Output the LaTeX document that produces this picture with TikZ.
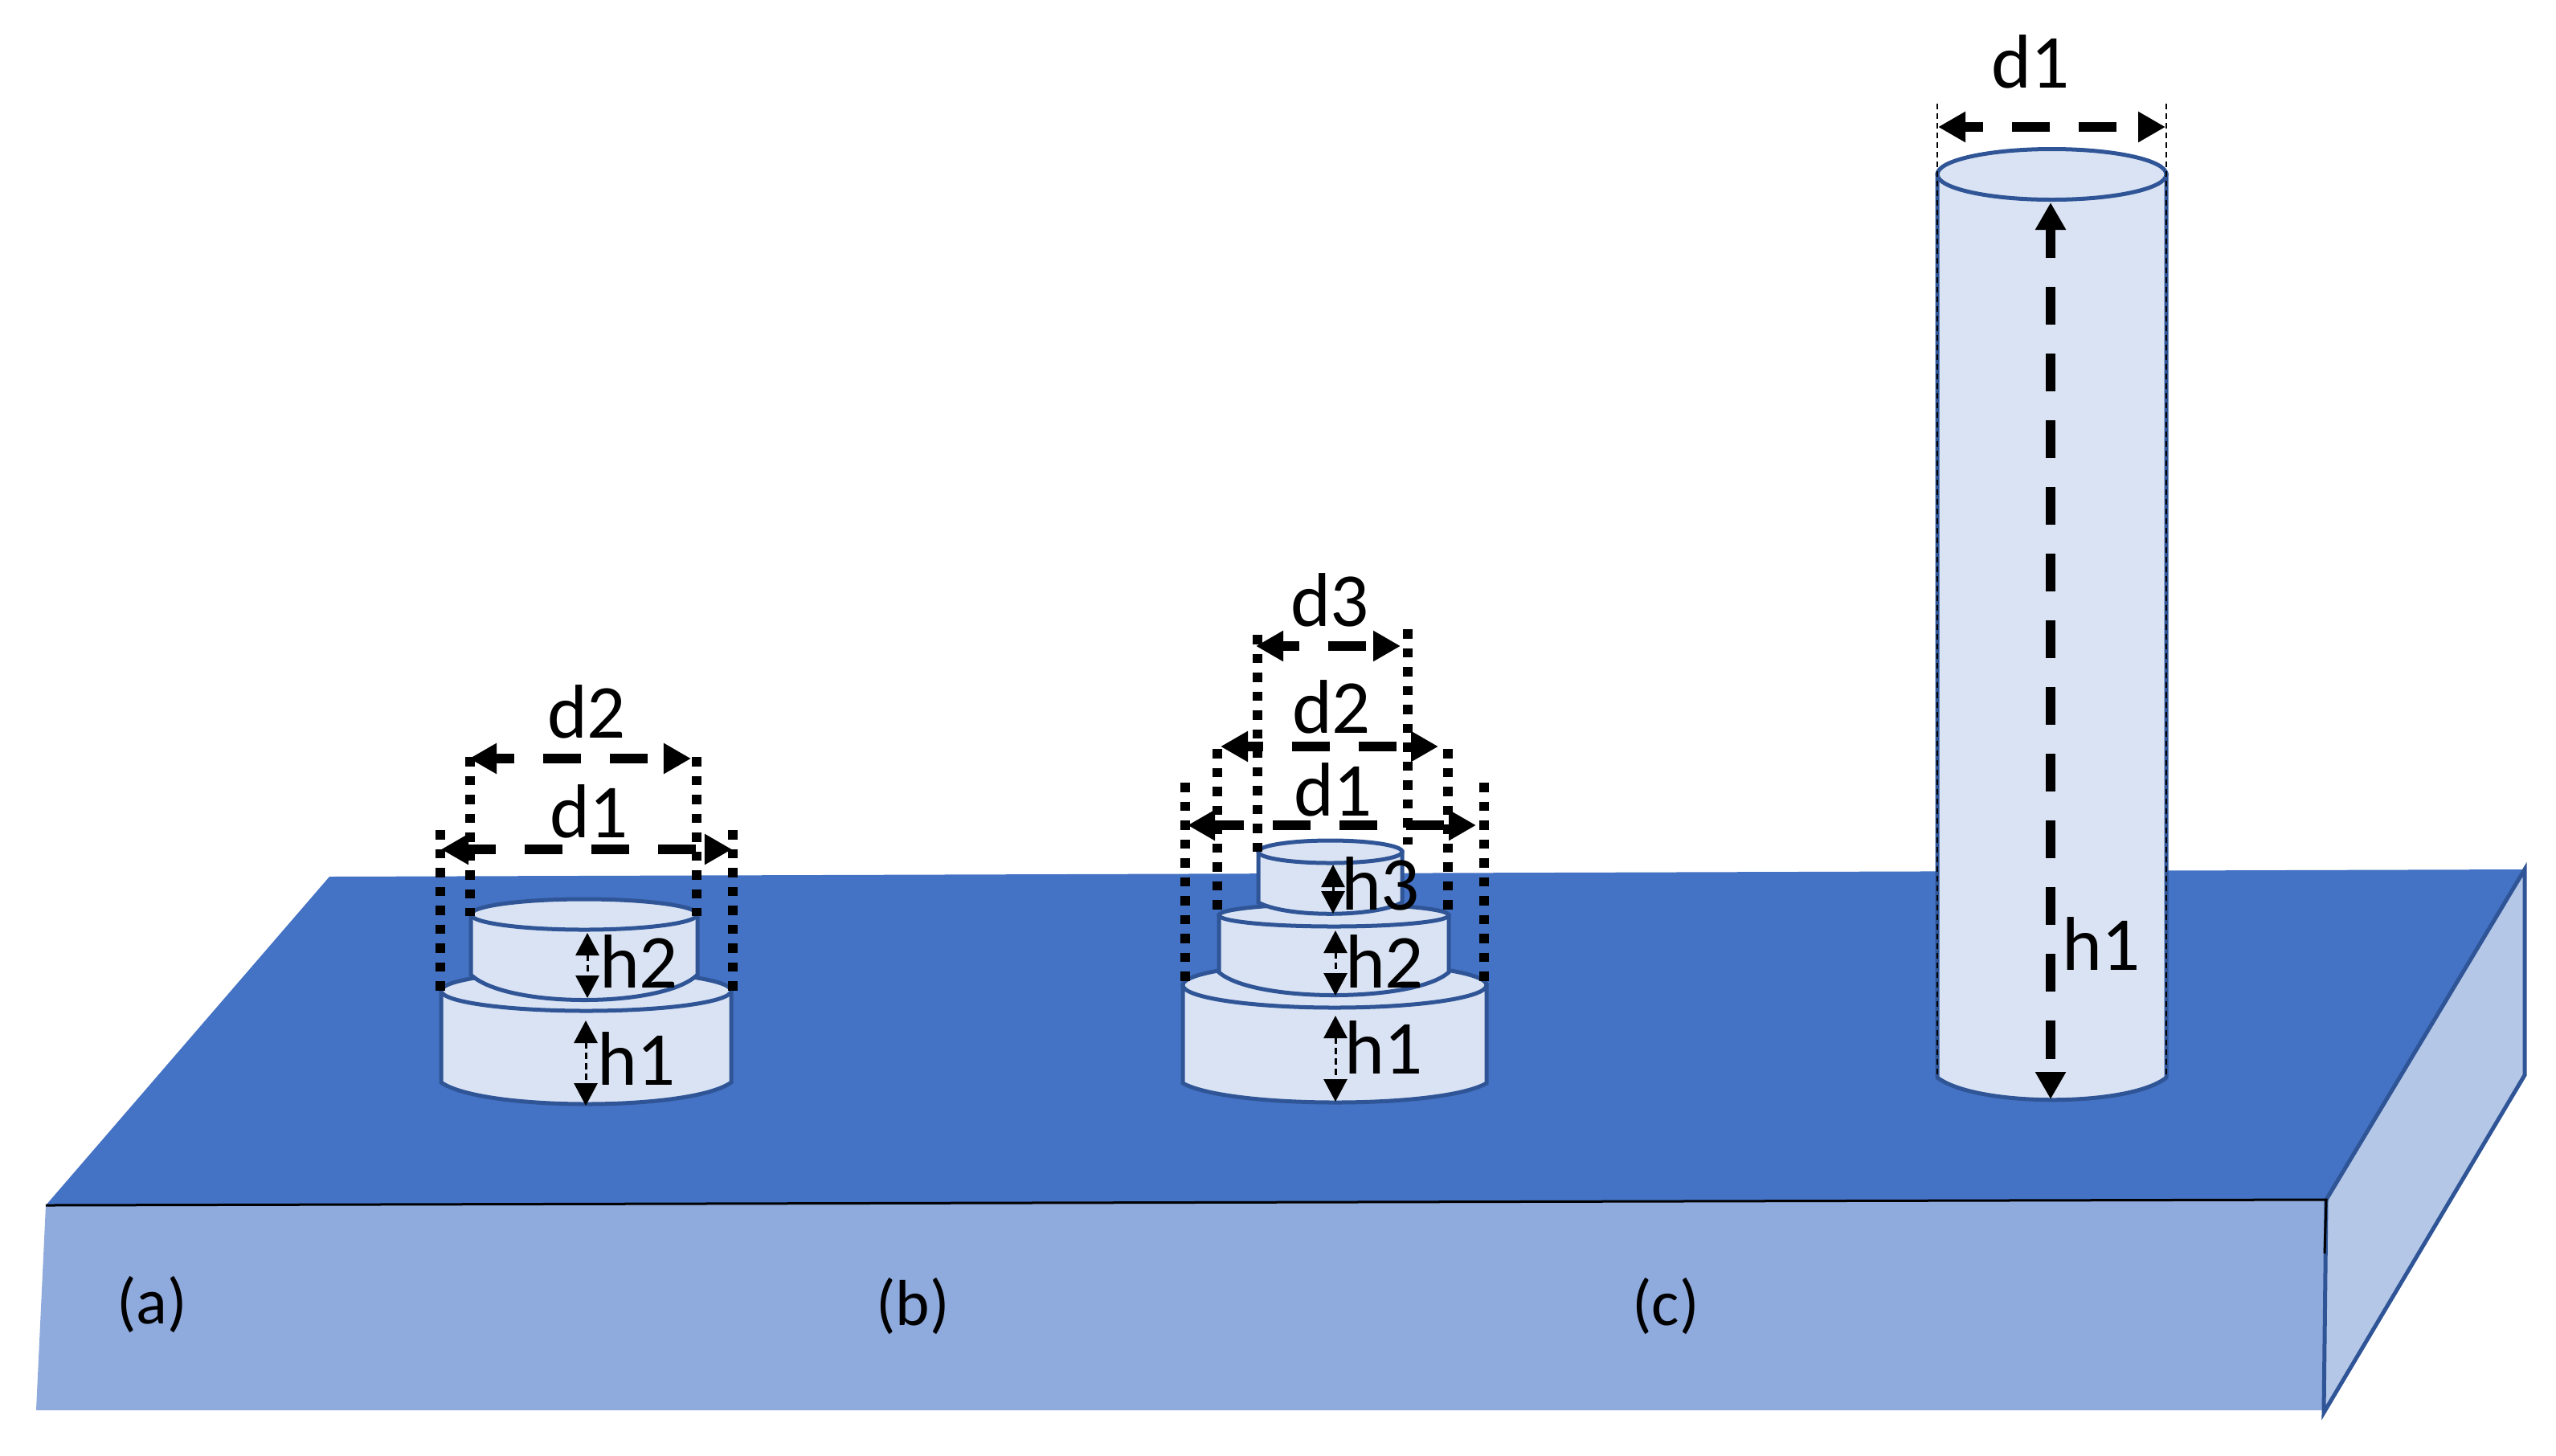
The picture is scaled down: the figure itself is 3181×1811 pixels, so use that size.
\documentclass[tikz,border=0pt]{standalone}
\usepackage{fontspec}
\setmainfont{Carlito}
\usetikzlibrary{arrows.meta}

\definecolor{topblue}{HTML}{4472C4}
\definecolor{frontblue}{HTML}{8FAADC}
\definecolor{sideblue}{HTML}{B4C7E7}
\definecolor{pillarblue}{HTML}{DAE3F3}
\definecolor{edgeblue}{HTML}{2F5597}

\tikzset{
    tier/.style={fill=pillarblue, draw=edgeblue, line width=0.05cm},
    guide/.style={black, line width=0.115cm, dash pattern=on 0.115cm off 0.12cm},
    thinguide/.style={black, line width=0.025cm, dash pattern=on 0.07cm off 0.05cm},
    width arrow/.style={black, line width=0.12cm, dash pattern=on 0.47cm off 0.36cm,
        {Triangle[length=0.34cm,width=0.36cm]}-{Triangle[length=0.34cm,width=0.36cm]}},
    small arrow/.style={black, line width=0.03cm, dash pattern=on 0.08cm off 0.05cm,
        {Triangle[length=0.28cm,width=0.29cm]}-{Triangle[length=0.28cm,width=0.29cm]}},
    dim/.style={inner sep=0, font=\fontsize{27}{32}\selectfont},
    tag/.style={inner sep=0, font=\fontsize{23}{28}\selectfont},
}

\begin{document}
\begin{tikzpicture}[x=0.01cm, y=-0.01cm]
    \useasboundingbox (0,0) rectangle (3181,1811);

    % slab
    \fill [topblue] (410,1091) -- (3142,1082) -- (2895,1493) -- (57,1500) -- cycle;
    \fill [frontblue] (57,1500) -- (2895,1493) -- (2892,1755) -- (45,1755) -- cycle;
    \draw [fill=sideblue, draw=edgeblue, line width=0.05cm] (2895,1493) -- (3142,1082) -- (3142,1338) -- (2892,1758) -- cycle;
    \draw [black, line width=0.03cm] (57,1500) -- (2895,1493) -- (2893,1560);

    % pillar a
    \draw [tier] (549,1233) -- (549,1347) .. controls (600,1383) and (860,1383) .. (910,1347) -- (910,1233) -- cycle;
    \draw [tier] (729.5,1233) ellipse [x radius=180.5, y radius=25];
    \draw [tier] (586,1138) -- (586,1213) .. controls (630,1255) and (825,1255) .. (868,1213) -- (868,1138) -- cycle;
    \draw [tier] (727,1138) ellipse [x radius=141, y radius=19];

    \draw [guide] (548,1033) -- (548,1233);
    \draw [guide] (912,1033) -- (912,1233);
    \draw [guide] (585,942) -- (585,1140);
    \draw [guide] (867,942) -- (867,1140);
    \draw [width arrow, dash phase=0.23cm] (584,944) -- (860,944);
    \draw [width arrow, dash phase=0.11cm] (549,1057) -- (911,1057);
    \draw [small arrow] (731,1161) -- (731,1242);
    \draw [small arrow] (729,1270) -- (729,1376);

    \node [dim] (d2a) at (730,886) {d2};
    \node [dim] (d1a) at (733,1010) {d1};
    \node [dim] (h2a) at (795,1197) {h2};
    \node [dim] (h1a) at (792,1318) {h1};

    % pillar b
    \draw [tier] (1472,1226) -- (1472,1348) .. controls (1530,1380) and (1795,1380) .. (1850,1348) -- (1850,1226) -- cycle;
    \draw [tier] (1661,1226) ellipse [x radius=189, y radius=28];
    \draw [tier] (1517,1139) -- (1517,1210) .. controls (1560,1248) and (1760,1248) .. (1803,1210) -- (1803,1139) -- cycle;
    \draw [tier] (1660,1139) ellipse [x radius=143, y radius=14];
    \draw [tier] (1566,1060) -- (1566,1123) .. controls (1600,1142) and (1710,1142) .. (1745,1123) -- (1745,1060) -- cycle;
    \draw [tier] (1655.5,1060) ellipse [x radius=89.5, y radius=14];

    \draw [guide] (1475,974) -- (1475,1226);
    \draw [guide] (1847,974) -- (1847,1226);
    \draw [guide] (1515,932) -- (1515,1137);
    \draw [guide] (1802,932) -- (1802,1137);
    \draw [guide] (1565,790) -- (1565,1061);
    \draw [guide] (1752,783) -- (1752,1051);
    \draw [width arrow, dash phase=0.25cm] (1563,804) -- (1743,804);
    \draw [width arrow, dash phase=0.26cm] (1519,929) -- (1790,929);
    \draw [width arrow, dash phase=0.09cm] (1478,1027) -- (1837,1027);
    \draw [small arrow] (1659,1076) -- (1659,1137);
    \draw [small arrow] (1662,1158) -- (1662,1239);
    \draw [small arrow] (1662,1264) -- (1662,1371);

    \node [dim] (d3b) at (1655,747) {d3};
    \node [dim] (d2b) at (1657,880) {d2};
    \node [dim] (d1b) at (1659,983) {d1};
    \node [dim] (h3b) at (1718,1100) {h3};
    \node [dim] (h2b) at (1723,1197) {h2};
    \node [dim] (h1b) at (1722,1304) {h1};

    % pillar c
    \draw [tier] (2411,217) -- (2411,1341) .. controls (2460,1378) and (2650,1378) .. (2696,1341) -- (2696,217) -- cycle;
    \draw [tier] (2553.5,217) ellipse [x radius=142.5, y radius=31.5];

    \draw [thinguide] (2411,129) -- (2411,1341);
    \draw [thinguide] (2696,129) -- (2696,1341);
    \draw [width arrow, dash phase=0.23cm] (2412,158) -- (2695,158);
    \draw [width arrow, dash phase=0.1cm] (2552,252) -- (2552,1368);

    \node [dim] (d1c) at (2527,77) {d1};
    \node [dim] (h1c) at (2615,1175) {h1};

    % panel tags
    \node [tag] (taga) at (189,1623) {(a)};
    \node [tag] (tagb) at (1136,1625) {(b)};
    \node [tag] (tagc) at (2073,1625) {(c)};
\end{tikzpicture}
\end{document}
